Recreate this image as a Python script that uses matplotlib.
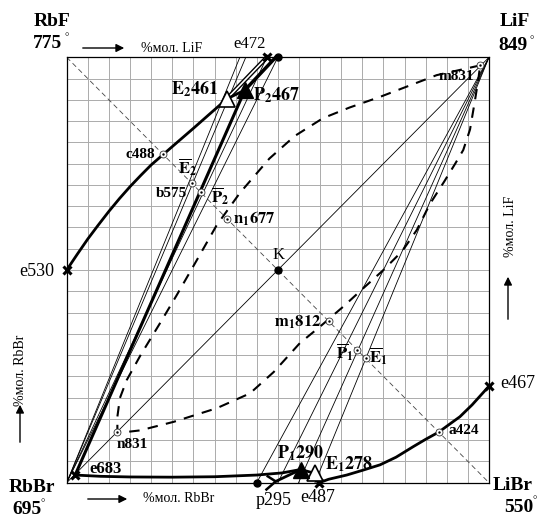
import numpy as np
import matplotlib.pyplot as plt

plt.rcParams['font.family'] = ['Liberation Serif', 'DejaVu Serif']
plt.rcParams['mathtext.fontset'] = 'stix'

W, H = 543, 520

# вершини квадрата, % мол. (x - вправо, y - вгору)
RbBr = (0, 0)
LiBr = (100, 0)
LiF = (100, 100)
RbF = (0, 100)

# нонваріантні точки
e530 = (0, 50)
e472 = (47.4, 100)
comp = (50, 100)
E2 = (37.9, 90.2)
P2 = (42.2, 92.3)
e683 = (2.0, 1.8)
P1 = (55.4, 3.1)
E1 = (58.8, 2.2)
e487 = (59.8, 0)
p295 = (45.0, 0)
e467 = (100, 22.7)
K = (50, 50)

# точки на діагоналях
diag_pts = {
    'c488': (22.9, 77.2), 'E2b': (29.6, 70.4), 'P2b': (31.8, 68.3),
    'n1677': (37.9, 62.1), 'm1812': (62.1, 37.9), 'P1b': (68.8, 31.2),
    'E1b': (70.8, 29.2), 'a424': (88.1, 11.9), 'n831': (12.0, 12.0),
    'm831': (97.9, 98.1),
}

# моноваріантні криві
cur_e530_x = [0, 2.5, 5, 7.5, 10, 12.5, 15, 17.5, 20, 22.9, 26.5, 30, 34, 37.9]
cur_e530_y = [50, 53.7, 57.3, 60.6, 63.8, 66.8, 69.6, 72.2, 74.7, 77.2, 80.3, 83.3, 86.8, 90.2]
cur_e683_x = [2, 8, 15, 25, 35, 45, 51, 55.4]
cur_e683_y = [1.8, 1.5, 1.35, 1.3, 1.4, 1.8, 2.3, 3.1]
cur_e487_x = [59.8, 62, 66.3, 70, 74.2, 78, 82.1, 85, 88.1, 91, 93.1, 96, 100]
cur_e487_y = [0, 0.8, 1.8, 2.9, 4.2, 6.0, 8.5, 10.2, 11.9, 14.0, 15.5, 18.3, 22.7]

# лінза розшарування (пунктир)
lens_x = [97.9, 87.6, 74.2, 67, 60.7, 54, 48, 41, 35.5, 30.8, 26, 22.1, 17.5, 14.2,
          12.6, 12.0, 12.0, 14, 17.4, 25.3, 35.5, 43.4, 49, 55.2, 60, 65.5, 70, 75,
          79.5, 82.9, 86, 89.4, 92, 93.9, 95.5, 96.7, 97.5, 97.9]
lens_y = [98.1, 95.8, 90.7, 88.2, 85.7, 81.5, 76.2, 68.1, 60.5, 52.3, 44, 37.5, 30, 24.1,
          19.9, 15.5, 12.0, 11.9, 12.3, 14.3, 17.5, 21, 26, 32.8, 36.7, 41.4, 45.5, 50,
          54.5, 59.4, 65.5, 70.8, 75, 78.2, 83, 90, 95, 98.1]

# кінці тонких ліній з кутів RbBr та LiF
fan_top_x = [41.0, 42.4, 47.4, 50.0]
fan_bot_x = [45.0, 50.0, 54.9, 58.8]

fig = plt.figure(figsize=(W / 100, H / 100), dpi=100)
ax = fig.add_axes([66.7 / W, 1 - 482.7 / H, 422.3 / W, 425.4 / H])
ax.set_xlim(0, 100)
ax.set_ylim(0, 100)
ax.set_xticks(np.arange(0, 101, 5))
ax.set_yticks(np.arange(0, 101, 5))
ax.grid(color='#ababab', lw=0.7)
ax.tick_params(length=0, labelbottom=False, labelleft=False)
for s in ax.spines.values():
    s.set_linewidth(0.9)

thin = dict(color='black', lw=0.6)

# діагоналі
ax.plot([RbF[0], LiBr[0]], [RbF[1], LiBr[1]], color='#444444', lw=0.6, dashes=(6, 4))
ax.plot([RbBr[0], LiF[0]], [RbBr[1], LiF[1]], **thin)

# віяла тонких ліній
for xt in fan_top_x:
    ax.plot([0, xt], [0, 100], **thin)
for xb in fan_bot_x:
    ax.plot([100, xb], [100, 0], **thin)

# пунктирна лінза
ax.plot(lens_x, lens_y, color='black', lw=1.5, dashes=(5, 4))

# товсті криві
ax.plot(cur_e530_x, cur_e530_y, color='black', lw=2)
ax.plot(cur_e683_x, cur_e683_y, color='black', lw=2)
ax.plot(cur_e487_x, cur_e487_y, color='black', lw=2)
ax.plot([e683[0], P2[0]], [e683[1], P2[1]], color='black', lw=2.2)
ax.plot([P2[0], comp[0] - 0.5], [P2[1], comp[1]], color='black', lw=2.5, clip_on=False)
ax.plot([E2[0], e472[0]], [E2[1], e472[1]], color='black', lw=3.2, clip_on=False)
ax.plot([E2[0], e472[0]], [E2[1], e472[1]], color='white', lw=1.2, clip_on=False)
ax.plot([E2[0], P2[0]], [E2[1], P2[1]], color='black', lw=2)
ax.plot([P1[0], E1[0]], [P1[1], E1[1]], color='black', lw=2)
ax.plot([E1[0], e487[0]], [E1[1], e487[1]], color='black', lw=2, clip_on=False)
# перитектична крива від p295 з розвилкою
ax.plot([p295[0] + 4.5, P1[0]], [p295[1] + 0.3, P1[1]], color='black', lw=2, clip_on=False)
ax.plot([p295[0] + 2.6, p295[0] + 4.5, p295[0] + 2.3],
        [p295[1] + 1.5, p295[1] + 0.3, p295[1] - 1.6], color='black', lw=1.8, clip_on=False)

# маркери
for pt in [e530, e472, e467, e683, e487]:
    ax.plot(*pt, marker='x', ms=6, mew=2.2, color='black', clip_on=False, zorder=5)
for pt in [comp, p295, K]:
    ax.plot(*pt, marker='o', ms=5, color='black', clip_on=False, zorder=5)
for pt in [E2, E1]:
    ax.plot(*pt, marker='^', ms=11, mfc='white', mec='black', mew=1.2, zorder=6)
for pt in [P2, P1]:
    ax.plot(*pt, marker='^', ms=11, color='black', zorder=6)
for pt in diag_pts.values():
    ax.plot(*pt, marker='o', ms=5, mfc='white', mec='#333333', mew=0.6, zorder=6)
    ax.plot(*pt, marker='.', ms=1.5, color='black', zorder=7)

# підписи точок
bold = dict(fontweight='bold', fontsize=11)
ax.text(43.4, 103.1, 'e472', fontsize=12, ha='center', va='center')
ax.text(36.0, 92.4, r'$\mathbf{E}_{\mathbf{2}}\mathbf{461}$', fontsize=13, ha='right', va='center')
ax.text(44.1, 91.1, r'$\mathbf{P}_{\mathbf{2}}\mathbf{467}$', fontsize=13, ha='left', va='center')
ax.text(20.9, 77.2, 'c488', ha='right', va='center', **bold)
ax.text(28.7, 74.2, r'$\overline{\mathbf{E}}_{\mathbf{2}}$', fontsize=12, ha='center', va='center')
ax.text(28.4, 68.1, 'b575', ha='right', va='center', **bold)
ax.text(36.3, 67.3, r'$\overline{\mathbf{P}}_{\mathbf{2}}$', fontsize=12, ha='center', va='center')
ax.text(39.4, 62.0, r'$\mathbf{n}_{\mathbf{1}}\mathbf{677}$', fontsize=12, ha='left', va='center')
ax.text(50.1, 53.6, 'K', fontsize=12, ha='center', va='center')
ax.text(-3.0, 49.7, 'e530', fontsize=13, ha='right', va='center')
ax.text(60.4, 37.8, r'$\mathbf{m}_{\mathbf{1}}\mathbf{812}$', fontsize=12, ha='right', va='center')
ax.text(65.9, 30.7, r'$\overline{\mathbf{P}}_{\mathbf{1}}$', fontsize=12, ha='center', va='center')
ax.text(73.7, 29.8, r'$\overline{\mathbf{E}}_{\mathbf{1}}$', fontsize=12, ha='center', va='center')
ax.text(90.3, 12.3, 'a424', ha='left', va='center', **bold)
ax.text(102.6, 23.4, 'e467', fontsize=13, ha='left', va='center')
ax.text(92.2, 95.4, 'm831', ha='center', va='center', **bold)
ax.text(15.6, 8.9, 'n831', ha='center', va='center', **bold)
ax.text(9.1, 3.2, 'e683', ha='center', va='center', fontweight='bold', fontsize=12)
ax.text(55.3, 6.8, r'$\mathbf{P}_{\mathbf{1}}\mathbf{290}$', fontsize=13, ha='center', va='center')
ax.text(61.2, 4.4, r'$\mathbf{E}_{\mathbf{1}}\mathbf{278}$', fontsize=13, ha='left', va='center')
ax.text(48.9, -4.1, 'p295', fontsize=13, ha='center', va='center')
ax.text(59.4, -3.4, 'e487', fontsize=13, ha='center', va='center')


def fpx(x, y):
    return x / W, 1 - y / H


# вершини
corner = dict(fontweight='bold', fontsize=14, ha='center', va='center')
for name, t, (xn, yn), (xt, yt), (xd, yd) in [
        ('RbF', '775', (52, 21), (48, 44), (67, 38)),
        ('LiF', '849', (515, 21), (513, 46), (532, 41)),
        ('RbBr', '695', (32, 488), (27, 510), (43, 504)),
        ('LiBr', '550', (513, 486), (519, 507), (535, 501))]:
    fig.text(*fpx(xn, yn), name, **corner)
    fig.text(*fpx(xt, yt), t, **corner)
    fig.text(*fpx(xd, yd), '°', fontsize=8, ha='center', va='center')

# підписи осей зі стрілками
arr = dict(arrowstyle='-|>', lw=1.0, color='black', mutation_scale=12)
fig.text(*fpx(172, 48), '%мол. LiF', fontsize=10, ha='center', va='center')
ax.annotate('', xy=fpx(127, 48), xytext=fpx(80, 48), xycoords='figure fraction', arrowprops=arr)
fig.text(*fpx(179, 499), '%мол. RbBr', fontsize=10, ha='center', va='center')
ax.annotate('', xy=fpx(130, 499), xytext=fpx(85, 499), xycoords='figure fraction', arrowprops=arr)
fig.text(*fpx(510, 226), '%мол. LiF', fontsize=10, ha='center', va='center', rotation=90)
ax.annotate('', xy=fpx(508, 274), xytext=fpx(508, 322), xycoords='figure fraction', arrowprops=arr)
fig.text(*fpx(20, 370), '%мол. RbBr', fontsize=10, ha='center', va='center', rotation=90)
ax.annotate('', xy=fpx(20, 402), xytext=fpx(20, 445), xycoords='figure fraction', arrowprops=arr)

fig.savefig('out.png', dpi=100)
